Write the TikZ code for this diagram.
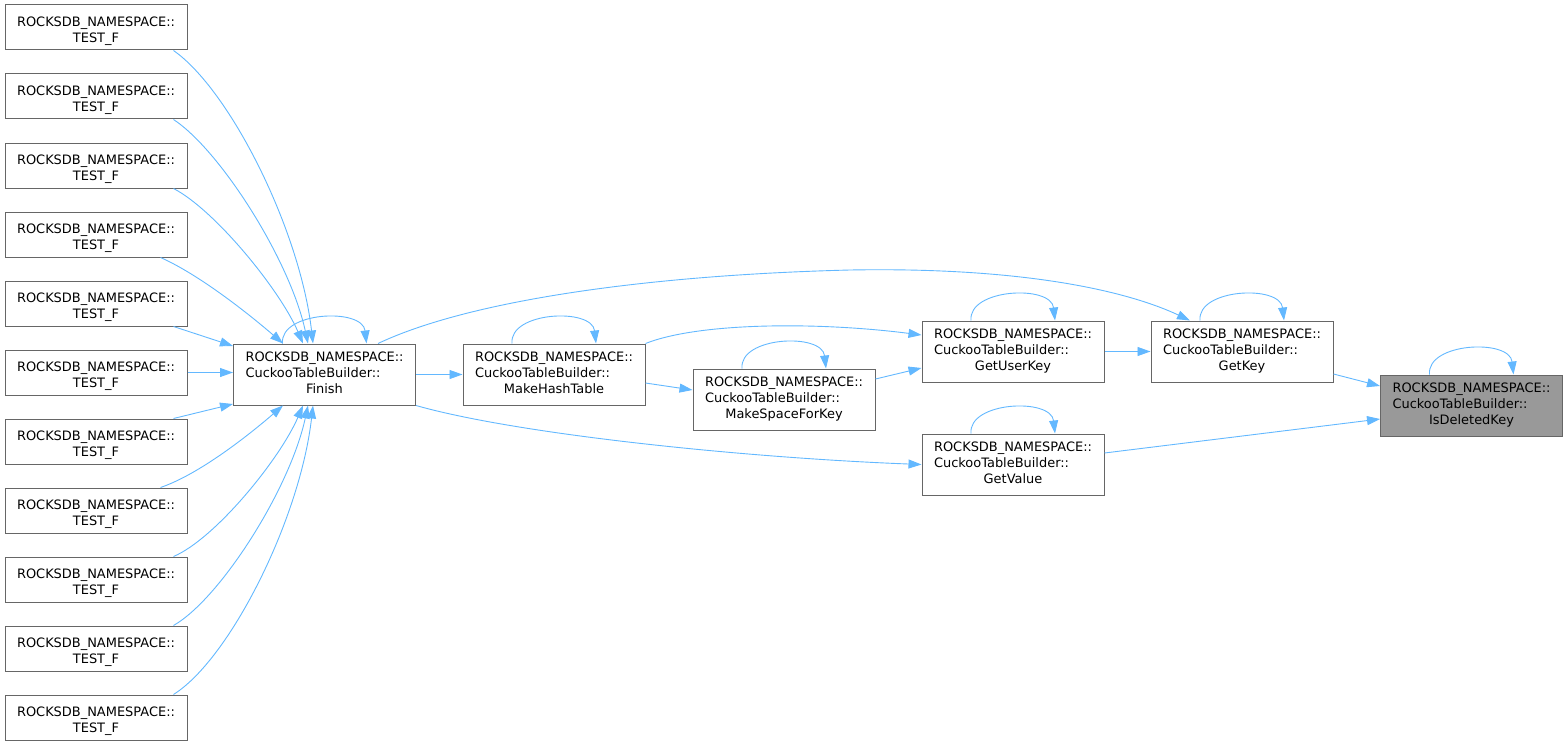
\documentclass[tikz,border=0pt]{standalone}
\usepackage{fontspec}
\setmainfont{DejaVu Sans}
\usetikzlibrary{arrows.meta}
\definecolor{edgeblue}{HTML}{63B8FF}
\definecolor{boxline}{HTML}{666666}
\definecolor{hilite}{HTML}{999999}
% three-line function label: namespace, class, method (last line centred)
\newcommand{\fnlabel}[2]{\begin{tabular}{@{}l@{}}ROCKSDB\_NAMESPACE::\\#1\\\multicolumn{1}{@{}c@{}}{#2}\end{tabular}}
% two-line test label, with extra room above so it sits a little low in its box
\newcommand{\testlabel}{\raisebox{0pt}[\dimexpr\height+7pt\relax]{\begin{tabular}{@{}l@{}}ROCKSDB\_NAMESPACE::\\\multicolumn{1}{@{}c@{}}{TEST\_F}\end{tabular}}}
\tikzset{
  fn/.style={draw=boxline, line width=1pt, fill=white, minimum width=182pt,
    minimum height=61pt, inner sep=0pt, font=\fontsize{12.95}{16}\selectfont},
  testbox/.style={fn, minimum height=45pt},
  call/.style={draw=edgeblue, line width=0.9pt, -{Triangle[length=13pt,width=9pt]}},
}
\begin{document}
\begin{tikzpicture}[x=1pt,y=-1pt]
\useasboundingbox (0,0) rectangle (1568,749);

% callers
\foreach \i in {1,...,11}
  \node[testbox] (t\i) at (96,{27.5+69*(\i-1)}) {\testlabel};

\node[fn] (finish) at (324.5,374.5) {\fnlabel{CuckooTableBuilder::}{Finish}};
\node[fn] (mht) at (554,374.5) {\fnlabel{CuckooTableBuilder::}{MakeHashTable}};
\node[fn] (msk) at (784,399.5) {\fnlabel{CuckooTableBuilder::}{MakeSpaceForKey}};
\node[fn] (guk) at (1013,351.5) {\fnlabel{CuckooTableBuilder::}{GetUserKey}};
\node[fn] (gv) at (1013,464.5) {\fnlabel{CuckooTableBuilder::}{GetValue}};
\node[fn] (gk) at (1242,351.5) {\fnlabel{CuckooTableBuilder::}{GetKey}};
\node[fn, fill=hilite] (idk) at (1471.5,405.5) {\fnlabel{CuckooTableBuilder::}{IsDeletedKey}};

% TEST_F -> Finish
\draw[call] ([xshift=-14pt]t1.south east) .. controls (230,90) and (300,230) .. ([xshift=-11.5pt]finish.north);
\draw[call] ([xshift=-14pt]t2.south east) .. controls (220,150) and (290,260) .. ([xshift=-16.5pt]finish.north);
\draw[call] ([xshift=-14pt]t3.south east) .. controls (215,210) and (280,290) .. ([xshift=-21.5pt]finish.north);
\draw[call] ([xshift=-27pt]t4.south east) .. controls (200,275) and (250,315) .. ([xshift=-41.5pt]finish.north);
\draw[call] ([xshift=-14pt]t5.south east) -- ([yshift=28.5pt]finish.west);
\draw[call] (t6.east) -- (t6.east -| finish.west);
\draw[call] ([xshift=-14pt]t7.north east) -- ([yshift=-29.5pt]finish.west);
\draw[call] ([xshift=-27pt]t8.north east) .. controls (200,474) and (250,434) .. ([xshift=-41.5pt]finish.south);
\draw[call] ([xshift=-14pt]t9.north east) .. controls (215,539) and (280,459) .. ([xshift=-21.5pt]finish.south);
\draw[call] ([xshift=-14pt]t10.north east) .. controls (220,599) and (290,489) .. ([xshift=-16.5pt]finish.south);
\draw[call] ([xshift=-14pt]t11.north east) .. controls (230,659) and (300,519) .. ([xshift=-11.5pt]finish.south);

% calls between builder methods
\draw[call] (finish.east) -- (mht.west);
\draw[call] ([yshift=-8.5pt]mht.east) -- ([yshift=9.5pt]msk.west);
\draw[call] ([yshift=20.5pt]msk.east) -- ([yshift=-16.5pt]guk.west);
\draw[call] (mht.north east) .. controls (700,322) and (820,322) .. ([yshift=16.5pt]guk.west);
\draw[call] (guk.east) -- (gk.west);
\draw[call] ([xshift=53.5pt]finish.north) .. controls (470,300) and (650,275) .. (850,270)
  .. controls (1020,267) and (1125,290) .. ([xshift=-52pt]gk.north);
\draw[call] (finish.south east) .. controls (520,435) and (750,458) .. (gv.west);
\draw[call] ([yshift=-22.5pt]gk.east) -- ([yshift=19.5pt]idk.west);
\draw[call] ([yshift=11.5pt]gv.east) -- ([yshift=-13.5pt]idk.west);

% recursive calls
\foreach \n in {finish,mht,msk,guk,gv,gk,idk}
  \draw[call] ([xshift=-42pt]\n.north) .. controls +(-3,-32) and +(-4,-36) .. ([xshift=42pt]\n.north);
\end{tikzpicture}
\end{document}
